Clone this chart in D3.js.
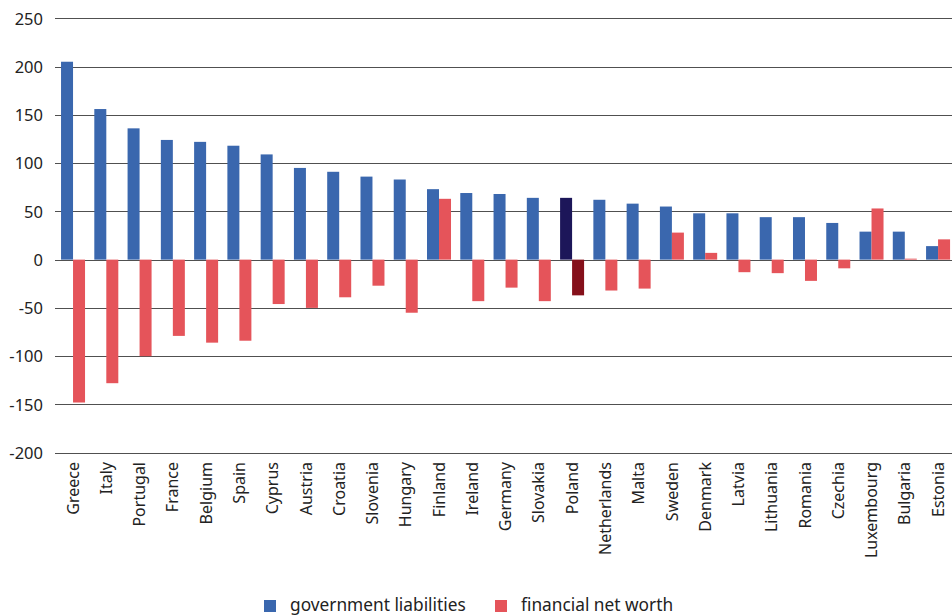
<!DOCTYPE html>
<html>
<head>
<meta charset="utf-8">
<script src="https://cdn.jsdelivr.net/npm/d3@7"></script>
<style>
  html, body { margin: 0; padding: 0; background: #fff; }
  text { font-family: "Noto Sans", "Open Sans", sans-serif; fill: #222; }
</style>
</head>
<body>
<svg id="chart" width="952" height="616"></svg>
<script>
// Countries, ordered by government liabilities
const countries = ["Greece", "Italy", "Portugal", "France", "Belgium", "Spain", "Cyprus",
  "Austria", "Croatia", "Slovenia", "Hungary", "Finland", "Ireland", "Germany", "Slovakia",
  "Poland", "Netherlands", "Malta", "Sweden", "Denmark", "Latvia", "Lithuania", "Romania",
  "Czechia", "Luxembourg", "Bulgaria", "Estonia"];

// government liabilities
const liabilities = [205, 156, 136, 124, 122, 118, 109, 95, 91, 86, 83, 73, 69, 68, 64,
  64, 62, 58, 55, 48, 48, 44, 44, 38, 29, 29, 14];

// financial net worth
const netWorth = [-148, -128, -100, -79, -86, -84, -46, -50, -39, -27, -55, 63, -43, -29, -43,
  -37, -32, -30, 28, 7, -13, -14, -22, -9, 53, 1, 21];

const yTicks = [-200, -150, -100, -50, 0, 50, 100, 150, 200, 250];
const seriesNames = ["government liabilities", "financial net worth"];

const colors = { liab: "#3a67ae", net: "#e5545a", liabHi: "#1c1659", netHi: "#85101a" };
const highlight = "Poland";

const svg = d3.select("#chart");

const x = d3.scaleBand().domain(countries).range([56.4, 954.7]).paddingInner(0).paddingOuter(0);
const y = d3.scaleLinear().domain([-200, 250]).range([452.7, 18.3]);
const barW = 12;

// horizontal gridlines
svg.append("g").selectAll("line").data(yTicks).join("line")
  .attr("x1", 55).attr("x2", 952)
  .attr("y1", d => Math.round(y(d)) + 0.5).attr("y2", d => Math.round(y(d)) + 0.5)
  .attr("stroke", "#505050").attr("stroke-width", 1.2);

// y axis labels (plain hyphen for negatives)
const yAxis = d3.axisLeft(y).tickValues(yTicks).tickSize(0).tickPadding(0).tickFormat(d => String(d));
const gy = svg.append("g").attr("transform", "translate(43,0)").call(yAxis);
gy.select(".domain").remove();
gy.selectAll("text").attr("font-size", 16.5).attr("dy", "0.35em")
  .style("font-family", "'Noto Sans', 'Open Sans', sans-serif").attr("fill", "#222");

const cx = d => x(d) + x.bandwidth() / 2;

// liabilities bars
svg.append("g").selectAll("rect").data(countries).join("rect")
  .attr("x", d => cx(d) - barW)
  .attr("width", barW)
  .attr("y", (d, i) => y(Math.max(0, liabilities[i])))
  .attr("height", (d, i) => Math.abs(y(liabilities[i]) - y(0)))
  .attr("fill", d => d === highlight ? colors.liabHi : colors.liab);

// net worth bars
svg.append("g").selectAll("rect").data(countries).join("rect")
  .attr("x", d => cx(d))
  .attr("width", barW)
  .attr("y", (d, i) => y(Math.max(0, netWorth[i])))
  .attr("height", (d, i) => Math.abs(y(netWorth[i]) - y(0)))
  .attr("fill", d => d === highlight ? colors.netHi : colors.net);

// x axis category labels, rotated
const xAxis = d3.axisBottom(x).tickSize(0).tickPadding(0);
const gx = svg.append("g").attr("transform", "translate(0,462)").call(xAxis);
gx.select(".domain").remove();
gx.selectAll("text")
  .attr("font-size", 16)
  .style("font-family", "'Noto Sans', 'Open Sans', sans-serif")
  .attr("fill", "#222")
  .attr("text-anchor", "end")
  .attr("transform", "rotate(-90)")
  .attr("x", 0).attr("y", 0).attr("dx", 0).attr("dy", "0.35em");

// legend
const legend = svg.append("g");
const legendItems = [
  { name: seriesNames[0], color: colors.liab, x: 264 },
  { name: seriesNames[1], color: colors.net, x: 495 }
];
legendItems.forEach(it => {
  legend.append("rect").attr("x", it.x).attr("y", 600).attr("width", 12).attr("height", 12).attr("fill", it.color);
  legend.append("text").attr("x", it.x + 26).attr("y", 611).attr("font-size", 17.3).text(it.name);
});
</script>
</body>
</html>
